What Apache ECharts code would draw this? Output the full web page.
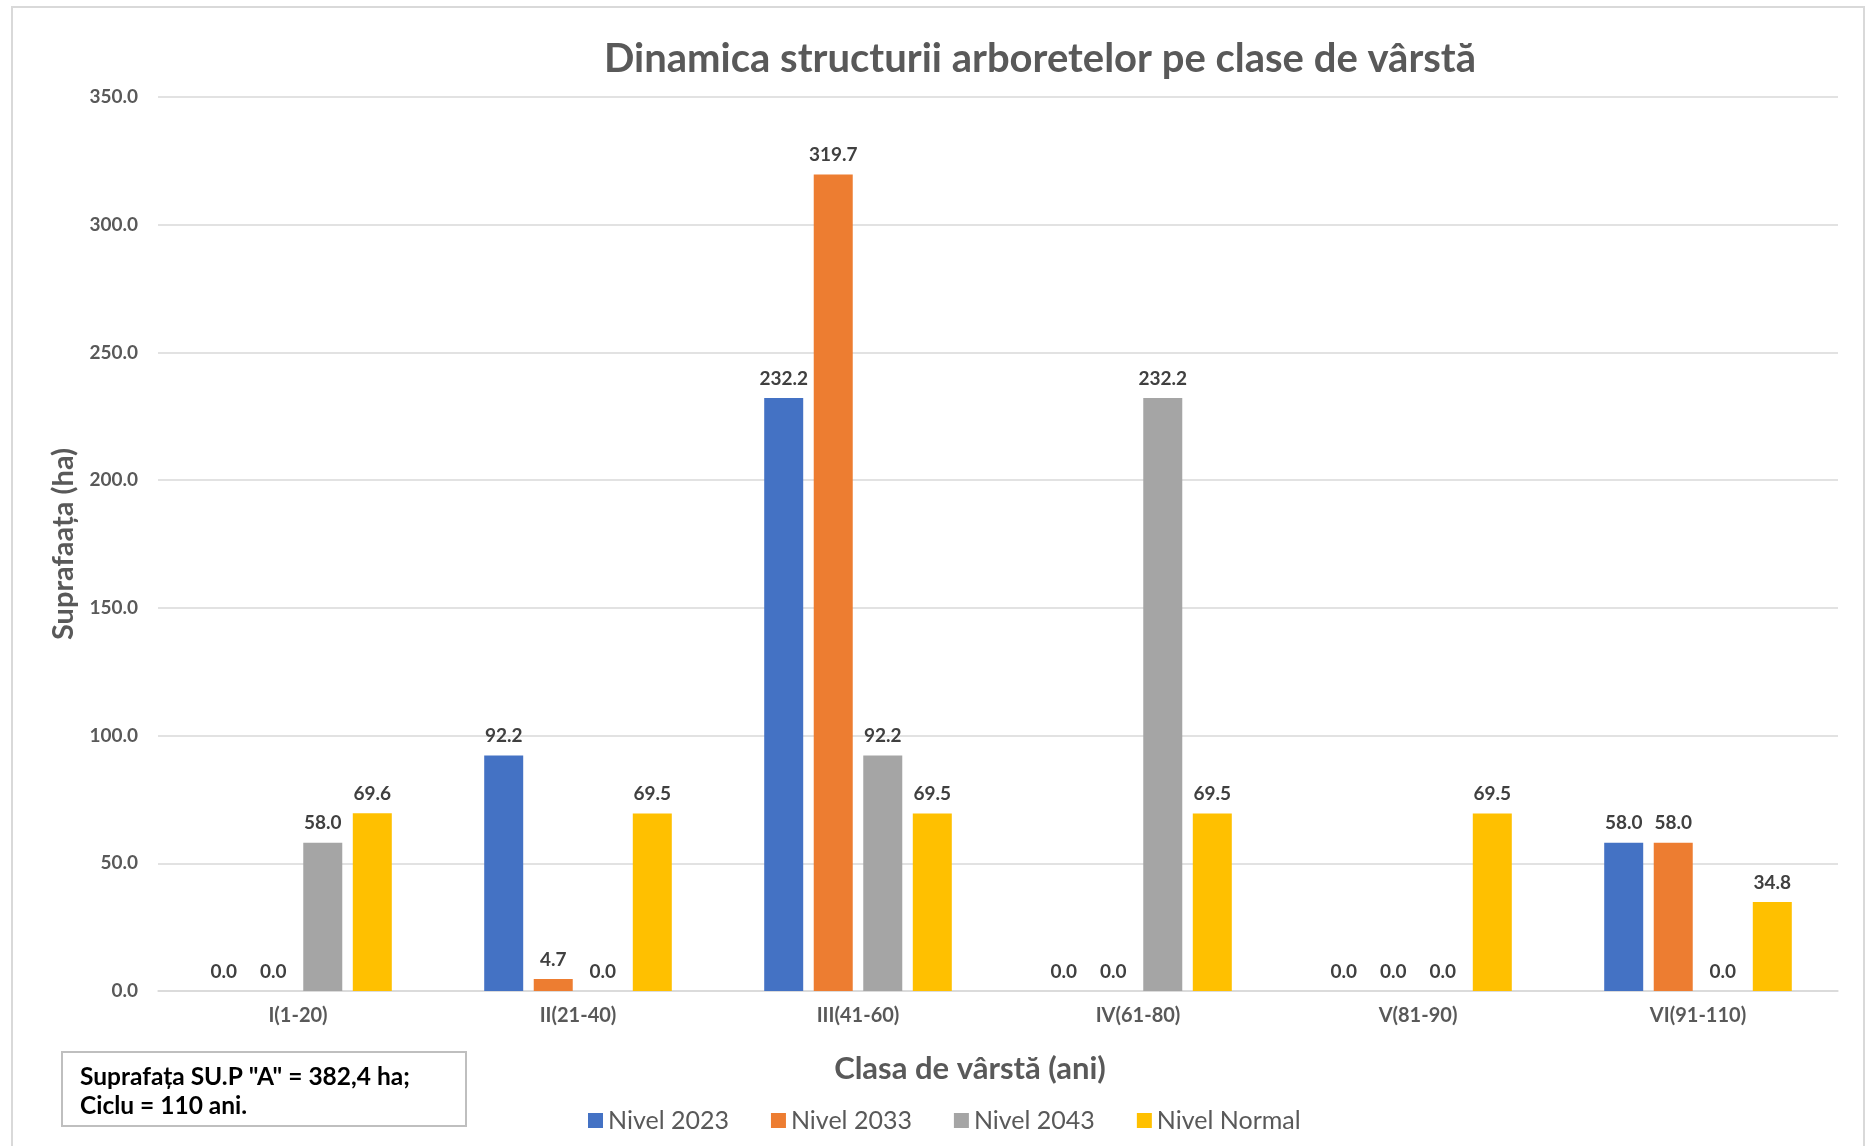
<!DOCTYPE html>
<html>
<head>
<meta charset="utf-8">
<title>Dinamica structurii arboretelor</title>
<script src="https://cdn.jsdelivr.net/npm/echarts@6/dist/echarts.min.js"></script>
<style>
  html, body { margin: 0; padding: 0; background: #fff; }
  #chart { width: 1868px; height: 1146px; }
</style>
</head>
<body>
<div id="chart"></div>
<script>
// categories + series values
const categories = ['I(1-20)', 'II(21-40)', 'III(41-60)', 'IV(61-80)', 'V(81-90)', 'VI(91-110)']
const nivel2023 = [0, 92.2, 232.2, 0, 0, 58.0]
const nivel2033 = [0, 4.7, 319.7, 0, 0, 58.0]
const nivel2043 = [58.0, 0, 92.2, 232.2, 0, 0]
const nivelNormal = [69.6, 69.5, 69.5, 69.5, 69.5, 34.8]

const seriesNames = ['Nivel 2023', 'Nivel 2033', 'Nivel 2043', 'Nivel Normal']
const colors = ['#4472C4', '#ED7D31', '#A5A5A5', '#FFC000']
const font = 'Lato, "Open Sans", sans-serif'

const chart = echarts.init(document.getElementById('chart'))

function makeSeries(name, data, color) {
  return {
    name: name,
    type: 'bar',
    data: data,
    barWidth: 39,
    barGap: '27%',
    itemStyle: { color: color },
    label: {
      show: true,
      position: 'top',
      distance: 10,
      fontFamily: font,
      fontWeight: 'bold',
      fontSize: 19,
      color: '#404040',
      formatter: p => p.value.toFixed(1),
    },
  }
}

chart.setOption({
  animation: false,
  title: {
    text: 'Dinamica structurii arboretelor pe clase de vârstă',
    left: 1035,
    textAlign: 'center',
    top: 34,
    textStyle: {
      fontFamily: font,
      fontSize: 40,
      fontWeight: 'bold',
      color: '#595959',
    },
  },
  grid: {
    left: 158,
    right: 30,
    top: 97,
    bottom: 155,
  },
  legend: {
    data: seriesNames,
    left: 583,
    top: 1103,
    itemWidth: 15,
    itemHeight: 15,
    itemGap: 42,
    icon: 'rect',
    textStyle: {
      fontFamily: font,
      fontSize: 25,
      color: '#595959',
    },
  },
  xAxis: {
    type: 'category',
    data: categories,
    axisTick: { show: false },
    axisLine: { lineStyle: { color: '#d9d9d9', width: 1.5 } },
    axisLabel: {
      margin: 15,
      fontFamily: font,
      fontSize: 20,
      fontWeight: 'bold',
      color: '#595959',
    },
  },
  yAxis: {
    type: 'value',
    min: 0,
    max: 350,
    interval: 50,
    name: 'Suprafaața (ha)',
    nameLocation: 'middle',
    nameGap: 79,
    nameTextStyle: {
      fontFamily: font,
      fontSize: 29,
      fontWeight: 'bold',
      color: '#595959',
    },
    axisLine: { show: false },
    axisTick: { show: false },
    splitLine: { lineStyle: { color: '#d9d9d9', width: 1.5 } },
    axisLabel: {
      margin: 20,
      fontFamily: font,
      fontSize: 19,
      fontWeight: 'bold',
      color: '#595959',
      formatter: v => v.toFixed(1),
    },
  },
  graphic: [
    {
      type: 'rect',
      shape: { x: 12, y: 7, width: 1852, height: 1160 },
      style: { fill: 'none', stroke: '#d9d9d9', lineWidth: 2 },
      silent: true,
      z: -1,
    },
    {
      type: 'text',
      style: {
        text: 'Clasa de vârstă (ani)',
        x: 970,
        y: 1069,
        align: 'center',
        verticalAlign: 'middle',
        fontFamily: font,
        fontSize: 31,
        fontWeight: 'bold',
        fill: '#595959',
      },
    },
    {
      type: 'rect',
      shape: { x: 62, y: 1052, width: 404, height: 74 },
      style: { fill: '#fff', stroke: '#bfbfbf', lineWidth: 2 },
    },
    {
      type: 'text',
      style: {
        text: 'Suprafața SU.P "A" = 382,4 ha;\nCiclu = 110 ani.',
        x: 80,
        y: 1063,
        fontFamily: font,
        fontSize: 24.5,
        fontWeight: 'bold',
        lineHeight: 29,
        fill: '#000',
      },
    },
  ],
  series: [
    makeSeries(seriesNames[0], nivel2023, colors[0]),
    makeSeries(seriesNames[1], nivel2033, colors[1]),
    makeSeries(seriesNames[2], nivel2043, colors[2]),
    makeSeries(seriesNames[3], nivelNormal, colors[3]),
  ],
})
</script>
</body>
</html>
